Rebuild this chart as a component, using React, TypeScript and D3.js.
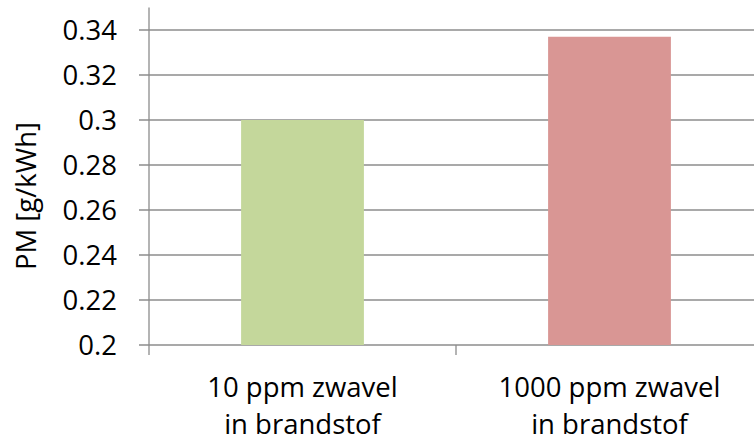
import React from "react";
import * as d3 from "d3";

const categories: string[][] = [
  ["10 ppm zwavel", "in brandstof"],
  ["1000 ppm zwavel", "in brandstof"],
];
const values: number[] = [0.3, 0.337];
const barColors: string[] = ["#C4D79B", "#D99694"];
const yTicks: number[] = [0.2, 0.22, 0.24, 0.26, 0.28, 0.3, 0.32, 0.34];
const yTitle = "PM [g/kWh]";

const W = 754;
const H = 441;
const FONT = "'Open Sans', 'Noto Sans', sans-serif";
const FS = 27.5;

export default function App() {
  const left = 149;
  const right = 763;
  const y = d3.scaleLinear().domain([0.2, 0.35]).range([345, 7.5]);
  const x = d3
    .scaleBand<number>()
    .domain(d3.range(categories.length))
    .range([left, right])
    .paddingInner(0.6)
    .paddingOuter(0.3);
  const step = x.step();
  const grid = "#8c8c8c";

  return (
    <svg
      width={W}
      height={H}
      style={{ position: "absolute", left: 0, top: 0, background: "#fff" }}
      fontFamily={FONT}
    >
      {/* horizontal gridlines */}
      {yTicks.map((t) => (
        <line
          key={"g" + t}
          x1={left - 10}
          x2={W}
          y1={y(t)}
          y2={y(t)}
          stroke={grid}
          strokeWidth={1.3}
        />
      ))}
      {/* bars */}
      {values.map((v, i) => (
        <rect
          key={"b" + i}
          x={x(i)}
          y={y(v)}
          width={x.bandwidth()}
          height={y(0.2) - y(v)}
          fill={barColors[i]}
        />
      ))}
      {/* y axis */}
      <line x1={left} x2={left} y1={y(0.35)} y2={y(0.2) + 10} stroke={grid} strokeWidth={1.3} />
      {/* category separator ticks */}
      {d3.range(1, categories.length).map((i) => (
        <line
          key={"t" + i}
          x1={left + step * i}
          x2={left + step * i}
          y1={y(0.2)}
          y2={y(0.2) + 10}
          stroke={grid}
          strokeWidth={1.3}
        />
      ))}
      {/* y tick labels */}
      {yTicks.map((t) => (
        <text
          key={"l" + t}
          x={117}
          y={y(t)}
          dy="0.36em"
          textAnchor="end"
          fontSize={FS}
          fill="#000"
        >
          {d3.format("~g")(t)}
        </text>
      ))}
      {/* category labels */}
      {categories.map((lines, i) => (
        <text
          key={"c" + i}
          x={(x(i) as number) + x.bandwidth() / 2}
          textAnchor="middle"
          fontSize={FS}
          fill="#000"
        >
          {lines.map((s, j) => (
            <tspan key={j} x={(x(i) as number) + x.bandwidth() / 2} y={397 + j * 37}>
              {s}
            </tspan>
          ))}
        </text>
      ))}
      {/* y axis title */}
      <text
        transform={`translate(36, 196) rotate(-90)`}
        textAnchor="middle"
        fontSize={FS}
        fill="#000"
      >
        {yTitle}
      </text>
    </svg>
  );
}
